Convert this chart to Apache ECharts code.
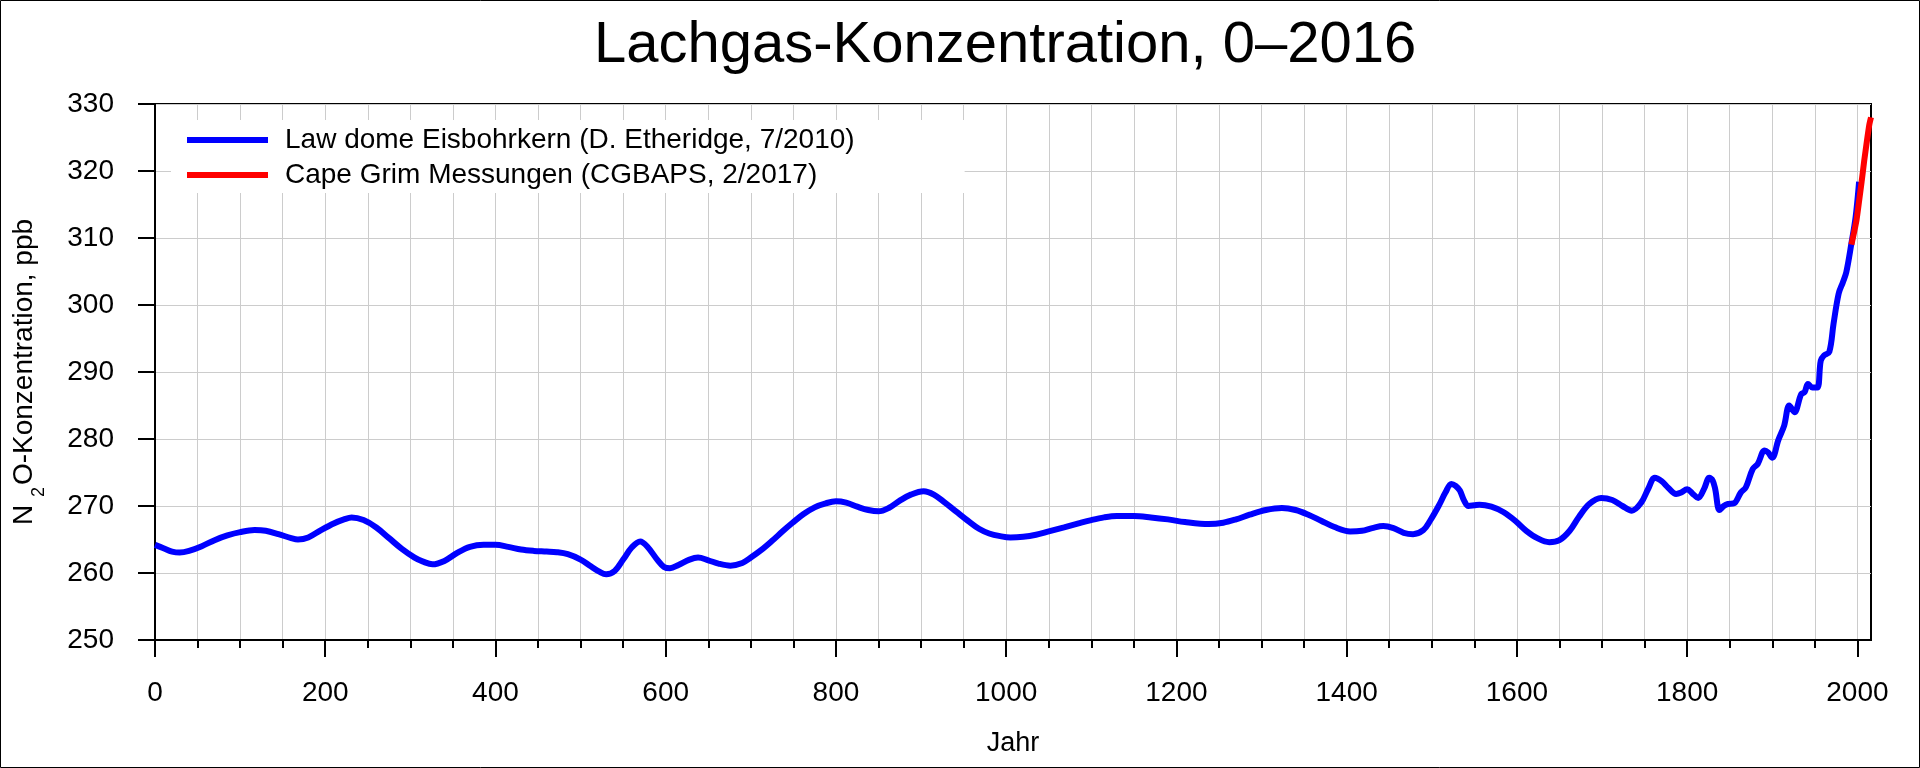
<!DOCTYPE html>
<html>
<head>
<meta charset="utf-8">
<script src="https://cdn.jsdelivr.net/npm/echarts@6/dist/echarts.min.js"></script>
<style>
html,body{margin:0;padding:0;background:#fff;}
#c{width:1920px;height:768px;}
</style>
</head>
<body>
<div id="c"></div>
<script>
var chartTitle = 'Lachgas-Konzentration, 0–2016';
var seriesNames = ['Law dome Eisbohrkern (D. Etheridge, 7/2010)', 'Cape Grim Messungen (CGBAPS, 2/2017)'];

var lawDomeYears = [0,10,20,29,40,55,70,85,100,117,130,145,160,168,180,195,210,222,231,245,260,275,290,305,315,326,340,355,370,386,400,415,430,445,460,472,485,500,512,522,530,540,550,560,570,578,590,598,605,615,628,638,650,662,676,690,700,712,725,738,749,762,775,788,800,812,825,838,850,862,875,888,903,915,928,941,955,968,980,993,1005,1020,1035,1050,1068,1085,1100,1115,1130,1150,1170,1190,1210,1238,1255,1270,1286,1305,1324,1340,1355,1370,1385,1404,1418,1430,1443,1455,1467,1478,1490,1498,1508,1516,1523,1528,1533,1538,1543,1550,1556,1570,1584,1598,1611,1624,1638,1650,1662,1673,1685,1699,1712,1724,1735,1746,1754,1762,1770,1778,1787,1793,1800,1806,1813,1820,1826,1830,1833,1838,1843,1848,1855,1863,1869,1877,1883,1891,1895,1900,1907,1914,1920,1926,1934,1938,1942,1947,1953,1957,1961,1967,1972,1978,1983,1987,1993,1998,2002];
var lawDomeValues = [264.2,263.7,263.2,263.05,263.3,264.0,264.9,265.6,266.1,266.4,266.3,265.8,265.2,265.0,265.3,266.4,267.4,268.0,268.3,267.9,266.8,265.2,263.6,262.3,261.7,261.3,261.8,263.0,263.9,264.2,264.2,263.9,263.5,263.3,263.2,263.1,262.8,262.0,261.0,260.2,259.8,260.3,262.0,263.8,264.7,264.0,262.0,260.9,260.7,261.2,262.0,262.3,261.9,261.4,261.1,261.5,262.3,263.4,264.8,266.3,267.5,268.8,269.8,270.4,270.7,270.5,269.9,269.4,269.2,269.7,270.8,271.7,272.2,271.7,270.5,269.2,267.8,266.6,265.9,265.5,265.3,265.4,265.7,266.2,266.8,267.4,267.9,268.3,268.5,268.5,268.3,268.0,267.6,267.3,267.5,268.0,268.7,269.4,269.7,269.4,268.7,267.8,266.9,266.2,266.3,266.7,267.0,266.7,266.0,265.8,266.4,267.8,270.0,272.0,273.3,273.0,272.3,270.8,270.0,270.1,270.2,269.9,269.1,267.8,266.3,265.2,264.6,264.9,266.3,268.4,270.3,271.2,270.9,270.0,269.3,270.5,272.5,274.2,273.7,272.7,271.8,272.0,272.5,271.9,271.2,272.6,274.2,273.8,272.5,269.4,270.0,270.3,270.4,272.0,272.8,275.5,276.3,278.3,278.0,277.2,279.8,282.0,285.0,284.0,286.7,287.0,288.2,287.7,287.7,291.7,292.5,293.0,297.2,301.7,303.4,304.9,309.2,313.2,318.4];

var capeGrimYears = [1993,1996,1999,2002,2005,2008,2011,2014,2016];
var capeGrimValues = [309.0,310.8,312.7,315.5,318.4,321.5,324.3,326.9,328.0];

var xLabelTicks = [0,200,400,600,800,1000,1200,1400,1600,1800,2000];
var yTicks = [250,260,270,280,290,300,310,320,330];

function pairs(xs, ys){ return xs.map(function(x,i){ return [x, ys[i]]; }); }
var minorTickValues = [];
for (var t = 0; t <= 2000; t += 50) minorTickValues.push(t);

var FONT = 'Liberation Sans';
var LEGEND_ICON = 'path://M0 0H81V6H0Z';
var chart = echarts.init(document.getElementById('c'), null, {renderer:'canvas'});
chart.setOption({
  animation: false,
  backgroundColor: '#fff',
  textStyle: {fontFamily: FONT},
  title: {
    text: chartTitle, left: 594, top: 17, padding: 0,
    textStyle: {fontFamily: FONT, fontSize: 58, fontWeight: 'normal', color: '#000'}
  },
  graphic: [{
    type: 'rect', silent: true, z: 100,
    shape: {x: 0.5, y: 0.5, width: 1919, height: 767},
    style: {fill: 'none', stroke: '#000', lineWidth: 1}
  }],
  legend: {
    orient: 'vertical', left: 171, top: 120,
    padding: [6, 110, 4, 16],
    backgroundColor: '#fff',
    itemWidth: 81, itemHeight: 27, itemGap: 7,
    textStyle: {fontFamily: FONT, fontSize: 28, color: '#000', padding: [0,0,0,12]},
    data: [{name: seriesNames[0], icon: LEGEND_ICON}, {name: seriesNames[1], icon: LEGEND_ICON}]
  },
  grid: {left: 155, right: 49, top: 104, bottom: 128, containLabel: false, outerBoundsMode: 'none',
    show: true, borderColor: '#000', borderWidth: 2, backgroundColor: '#fff'},
  xAxis: [{
    type: 'value', min: 0, max: 2016, interval: 50,
    axisLine: {show: true, onZero: false, lineStyle: {color: '#000', width: 2}},
    axisTick: {show: true, length: 8, customValues: minorTickValues, lineStyle: {color: '#000', width: 2}},
    axisLabel: {fontFamily: FONT, fontSize: 28, color: '#000', margin: 39, customValues: xLabelTicks,
      formatter: function(v){ return (v % 200 === 0 && v <= 2000) ? String(v) : ''; }},
    splitLine: {show: true, lineStyle: {color: '#cccccc', width: 1}},
    name: 'Jahr', nameLocation: 'middle', nameGap: 90,
    nameTextStyle: {fontFamily: FONT, fontSize: 27, color: '#000'}
  }, {
    type: 'value', min: 0, max: 2016, interval: 200, position: 'bottom',
    axisLine: {show: false},
    axisTick: {show: true, length: 17, customValues: xLabelTicks, lineStyle: {color: '#000', width: 2}},
    axisLabel: {show: false},
    splitLine: {show: false}
  }],
  yAxis: {
    type: 'value', min: 250, max: 330, interval: 10,
    axisLine: {show: true, onZero: false, lineStyle: {color: '#000', width: 2}},
    axisTick: {show: true, length: 17, lineStyle: {color: '#000', width: 2}},
    axisLabel: {fontFamily: FONT, fontSize: 28, color: '#000', margin: 41,
      formatter: function(v){ return yTicks.indexOf(v) >= 0 ? String(v) : ''; }},
    splitLine: {show: true, lineStyle: {color: '#cccccc', width: 1}},
    name: '{n|N }{s|2}{n|O-Konzentration, ppb}', nameLocation: 'middle', nameGap: 107,
    nameTextStyle: {
      fontFamily: FONT, color: '#000',
      rich: {
        n: {fontFamily: FONT, fontSize: 28, color: '#000', verticalAlign: 'top'},
        s: {fontFamily: FONT, fontSize: 18, color: '#000', verticalAlign: 'bottom', padding: [20, 2, 0, 0]}
      }
    }
  },
  series: [{
    name: seriesNames[0], type: 'line', xAxisIndex: 0,
    data: pairs(lawDomeYears, lawDomeValues),
    showSymbol: false, symbol: 'none', smooth: 0.35,
    lineStyle: {color: '#0000ff', width: 6},
    itemStyle: {color: '#0000ff'}
  }, {
    name: seriesNames[1], type: 'line', xAxisIndex: 0,
    data: pairs(capeGrimYears, capeGrimValues),
    showSymbol: false, symbol: 'none', smooth: 0.2,
    lineStyle: {color: '#ff0000', width: 6},
    itemStyle: {color: '#ff0000'}
  }]
});
</script>
</body>
</html>
